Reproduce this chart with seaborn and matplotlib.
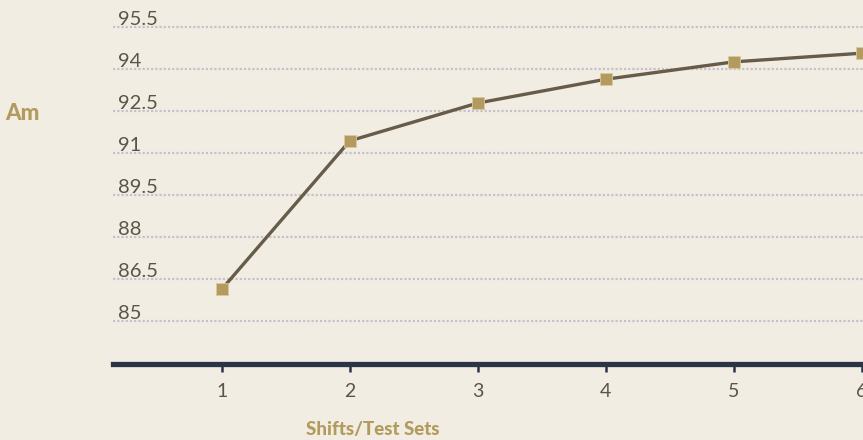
import seaborn as sns
import matplotlib.pyplot as plt

# values
shifts = [1, 2, 3, 4, 5, 6]
am = [86.15, 91.45, 92.8, 93.65, 94.27, 94.58]
y_ticks = [85, 86.5, 88, 89.5, 91, 92.5, 94, 95.5]
x_ticks = [1, 2, 3, 4, 5, 6]

BG = "#f2ede3"
GOLD = "#b39b5e"
LINE = "#675b49"
NAVY = "#2b3446"
TEXT = "#5b5448"

sns.set_style("white", rc={"axes.facecolor": BG, "figure.facecolor": BG})
plt.rcParams["font.family"] = ["Lato", "DejaVu Sans"]

fig = plt.figure(figsize=(8.63, 4.40), dpi=100)
ax = fig.add_axes([113 / 863, 76 / 440, 750 / 863, 364 / 440])

sns.lineplot(x=shifts, y=am, color=LINE, linewidth=2.4, zorder=2, ax=ax)
sns.scatterplot(x=shifts, y=am, marker="s", s=78, color=GOLD,
                edgecolor="#d8c9a2", linewidth=0.6, zorder=3, clip_on=False, ax=ax)

ax.set_xlim(0.15, 6.01)
ax.set_ylim(83.48, 96.48)
ax.set_yticks(y_ticks)
ax.set_xticks(x_ticks)
ax.set_xticklabels([str(v) for v in x_ticks])
ax.tick_params(axis="y", left=False, labelleft=False)
ax.tick_params(axis="x", bottom=True, length=6, width=1.8, color=NAVY,
               pad=8, labelsize=14, labelcolor=TEXT)

ax.grid(axis="y", linestyle=(0, (1, 0.9)), linewidth=1.6, color="#c6c1c8")
ax.grid(axis="x", visible=False)
for side in ["left", "right", "top"]:
    ax.spines[side].set_visible(False)
ax.spines["bottom"].set_color(NAVY)
ax.spines["bottom"].set_linewidth(3.8)

for v in y_ticks:
    ax.annotate(f"{v:g}", xy=(0, v), xycoords=ax.get_yaxis_transform(),
                xytext=(3.6, 1.8), textcoords="offset points",
                ha="left", va="baseline", fontsize=14.5, color=TEXT)

ax.set_xlabel("")
ax.set_ylabel("")
fig.text(5 / 863, 1 - 114 / 440, "Am", ha="left", va="center", fontsize=16,
         fontweight="black", color=GOLD)
fig.text(373 / 863, 1 - 429 / 440, "Shifts/Test Sets", ha="center", va="center",
         fontsize=13.5, fontweight="black", color=GOLD)

fig.savefig("out.png", dpi=100, facecolor=BG)
